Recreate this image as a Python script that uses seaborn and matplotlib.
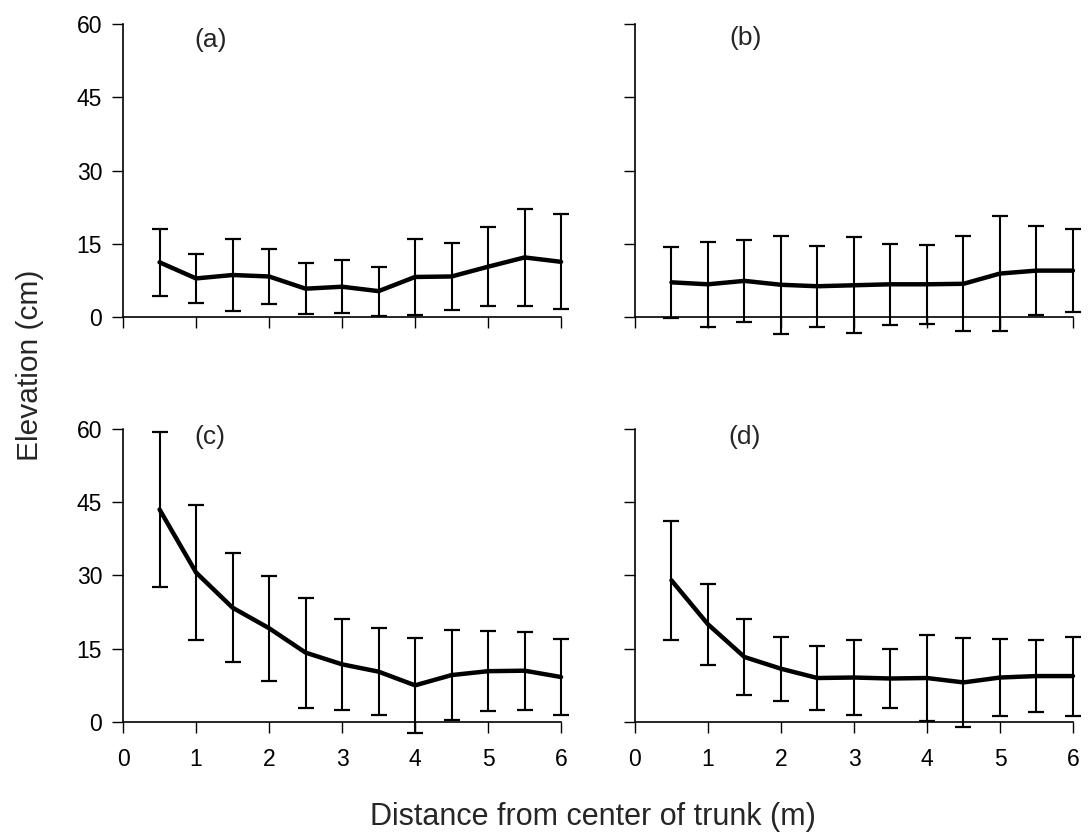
import numpy as np
import pandas as pd
import matplotlib
matplotlib.use("Agg")
import matplotlib.pyplot as plt
import seaborn as sns

# ---- data ----
distance = [0.5, 1.0, 1.5, 2.0, 2.5, 3.0, 3.5, 4.0, 4.5, 5.0, 5.5, 6.0]

mean_a = [11.2, 7.9, 8.6, 8.3, 5.8, 6.2, 5.3, 8.2, 8.3, 10.3, 12.2, 11.3]
sd_a = [6.85, 5.1, 7.45, 5.7, 5.25, 5.45, 5.0, 7.85, 6.95, 8.05, 10.0, 9.7]

mean_b = [7.1, 6.7, 7.4, 6.6, 6.3, 6.5, 6.7, 6.7, 6.8, 8.9, 9.5, 9.5]
sd_b = [7.3, 8.7, 8.45, 10.05, 8.25, 9.85, 8.3, 8.05, 9.7, 11.7, 9.15, 8.55]

mean_c = [43.5, 30.6, 23.4, 19.2, 14.2, 11.8, 10.3, 7.5, 9.6, 10.4, 10.5, 9.2]
sd_c = [15.9, 13.8, 11.15, 10.75, 11.25, 9.25, 8.9, 9.7, 9.25, 8.15, 8.0, 7.7]

mean_d = [29.0, 20.0, 13.3, 10.9, 9.0, 9.1, 8.9, 9.0, 8.1, 9.1, 9.4, 9.4]
sd_d = [12.2, 8.3, 7.85, 6.6, 6.65, 7.65, 5.95, 8.9, 9.05, 7.85, 7.35, 8.1]

panel_labels = ["(a)", "(b)", "(c)", "(d)"]
x_ticks = [0, 1, 2, 3, 4, 5, 6]
y_ticks = [0, 15, 30, 45, 60]
x_label = "Distance from center of trunk (m)"
y_label = "Elevation (cm)"

# ---- style ----
sns.set_style("ticks")
plt.rcParams["font.family"] = ["Liberation Sans", "DejaVu Sans"]

fig = plt.figure(figsize=(10.88, 8.36), dpi=100)

positions = [
    [0.1131, 0.6208, 0.4026, 0.3505],
    [0.5836, 0.6208, 0.4026, 0.3505],
    [0.1131, 0.1364, 0.4026, 0.3505],
    [0.5836, 0.1364, 0.4026, 0.3505],
]
means = [mean_a, mean_b, mean_c, mean_d]
sds = [sd_a, sd_b, sd_c, sd_d]
label_pos = [(1.2, 56.8), (1.51, 57.2), (1.19, 58.4), (1.5, 58.4)]

for i in range(4):
    ax = fig.add_axes(positions[i])
    df = pd.DataFrame({"distance": distance, "mean": means[i], "sd": sds[i]})
    sns.lineplot(data=df, x="distance", y="mean", color="black", lw=3.2,
                 ax=ax, clip_on=False)
    eb = ax.errorbar(df["distance"], df["mean"], yerr=df["sd"], fmt="none",
                     ecolor="black", elinewidth=1.5, capsize=5.8, capthick=1.6)
    for art in eb.lines[1]:
        art.set_clip_on(False)
    for coll in eb.lines[2]:
        coll.set_clip_on(False)

    ax.set_xlim(0, 6)
    ax.set_ylim(0, 60)
    ax.set_xticks(x_ticks)
    ax.set_yticks(y_ticks)
    sns.despine(ax=ax)
    for s in ["left", "bottom"]:
        ax.spines[s].set_linewidth(1.2)
        ax.spines[s].set_color("black")
    ax.tick_params(axis="both", direction="out", length=8, width=1.0,
                   color="black", labelsize=16.5, labelcolor="black")
    ax.tick_params(axis="y", pad=7)
    ax.tick_params(axis="x", pad=11)
    ax.set_xlabel("")
    ax.set_ylabel("")
    if i in (0, 1):
        ax.set_xticklabels([])
    else:
        ax.set_xticklabels([str(t) for t in x_ticks])
    if i in (1, 3):
        ax.set_yticklabels([])
    else:
        ax.set_yticklabels([str(t) for t in y_ticks])
    ax.text(label_pos[i][0], label_pos[i][1], panel_labels[i],
            fontsize=19, ha="center", va="center",
            family=["Liberation Sans", "DejaVu Sans"])

fig.text(0.545, 0.0225, x_label, fontsize=22, ha="center", va="center")
fig.text(0.0276, 0.5634, y_label, fontsize=21.5, ha="center", va="center",
         rotation=90)

fig.savefig("out.png", dpi=100, facecolor="white")
